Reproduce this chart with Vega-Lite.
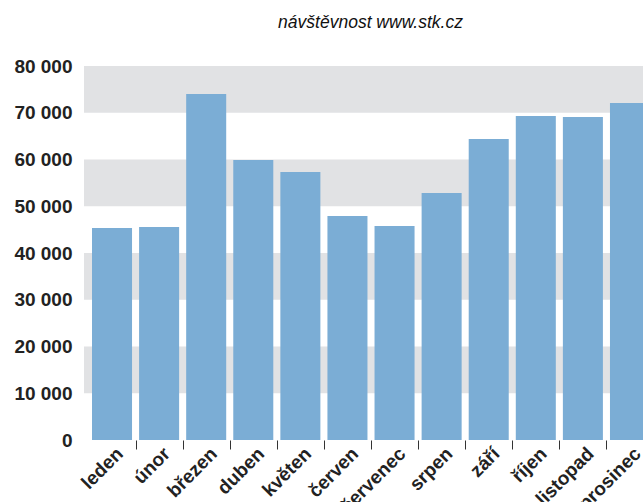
{
  "$schema": "https://vega.github.io/schema/vega-lite/v6.json",
  "width": 559,
  "height": 374,
  "autosize": {"type": "none"},
  "padding": {"left": 84, "top": 66, "right": 0, "bottom": 62},
  "background": "white",
  "config": {
    "view": {"stroke": null},
    "font": "Liberation Sans",
    "axisY": {
      "title": null,
      "domain": false,
      "ticks": false,
      "grid": false,
      "values": [0, 10000, 20000, 30000, 40000, 50000, 60000, 70000, 80000],
      "labelExpr": "replace(format(datum.value, ',d'), ',', ' ')",
      "labelPadding": 12,
      "labelFont": "Liberation Sans",
      "labelFontSize": 19,
      "labelFontWeight": "bold",
      "labelColor": "#222222",
      "labelBaseline": "middle"
    }
  },
  "title": {
    "text": "návštěvnost www.stk.cz",
    "font": "Liberation Sans",
    "fontSize": 17.5,
    "fontStyle": "italic",
    "fontWeight": "normal",
    "color": "#111111",
    "anchor": "middle",
    "frame": "group",
    "baseline": "alphabetic",
    "offset": 11.5,
    "dx": 7
  },
  "datasets": {
    "bands": [
      {"lo": 10000, "hi": 20000},
      {"lo": 30000, "hi": 40000},
      {"lo": 50000, "hi": 60000},
      {"lo": 70000, "hi": 80000}
    ],
    "visits": [
      {"mesic": "leden", "navstevy": 45350},
      {"mesic": "únor", "navstevy": 45560},
      {"mesic": "březen", "navstevy": 74010},
      {"mesic": "duben", "navstevy": 59890},
      {"mesic": "květen", "navstevy": 57330},
      {"mesic": "červen", "navstevy": 47910},
      {"mesic": "červenec", "navstevy": 45780},
      {"mesic": "srpen", "navstevy": 52830},
      {"mesic": "září", "navstevy": 64390},
      {"mesic": "říjen", "navstevy": 69300},
      {"mesic": "listopad", "navstevy": 69090},
      {"mesic": "prosinec", "navstevy": 72090}
    ]
  },
  "layer": [
    {
      "data": {"name": "bands"},
      "mark": {"type": "rect", "color": "#e1e2e4"},
      "encoding": {
        "y": {"field": "lo", "type": "quantitative", "scale": {"domain": [0, 80000]}, "title": null},
        "y2": {"field": "hi"}
      }
    },
    {
      "data": {"name": "visits"},
      "mark": {"type": "bar", "color": "#7badd5"},
      "encoding": {
        "x": {
          "field": "mesic",
          "type": "nominal",
          "sort": null,
          "scale": {"range": [0, 574], "paddingInner": 0.15, "paddingOuter": 0.17},
          "axis": {
            "title": null,
            "domain": false,
            "ticks": true,
            "tickSize": 9,
            "tickColor": "#333333",
            "tickWidth": 1,
            "tickOffset": 23.5,
            "labelOffset": -22.5,
            "labelAngle": -45,
            "labelAlign": "right",
            "labelBaseline": "top",
            "labelPadding": -5,
            "labelFont": "Liberation Sans",
            "labelFontSize": 19,
            "labelFontWeight": "bold",
            "labelColor": "#222222",
            "labelOverlap": false,
            "labelBound": false,
            "labelFlush": false
          }
        },
        "y": {
          "field": "navstevy",
          "type": "quantitative",
          "scale": {"domain": [0, 80000]},
          "title": null
        }
      }
    }
  ]
}
